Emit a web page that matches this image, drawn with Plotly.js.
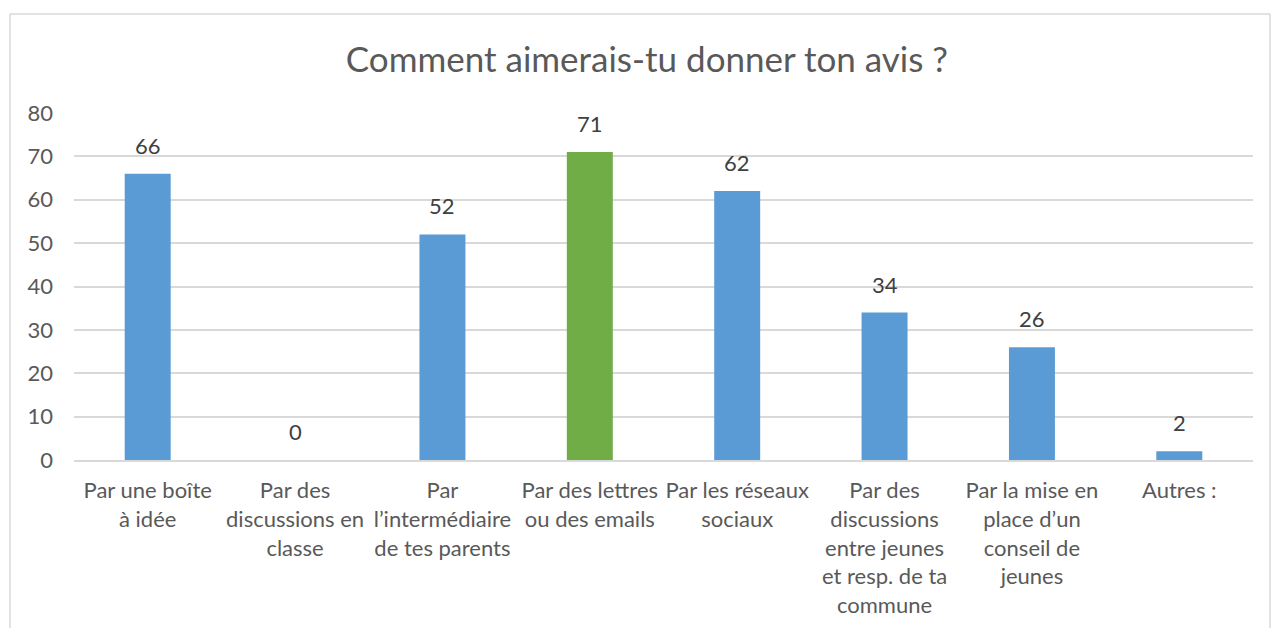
<!DOCTYPE html>
<html>
<head>
<meta charset="utf-8">
<script src="https://cdn.plot.ly/plotly-3.0.1.min.js"></script>
<style>
html,body{margin:0;padding:0;background:#fff;}
#chart{width:1271px;height:628px;}
</style>
</head>
<body>
<div id="chart"></div>
<script>
var categories = [
  "Par une boîte<br>à idée",
  "Par des<br>discussions en<br>classe",
  "Par<br>l’intermédiaire<br>de tes parents",
  "Par des lettres<br>ou des emails",
  "Par les réseaux<br>sociaux",
  "Par des<br>discussions<br>entre jeunes<br>et resp. de ta<br>commune",
  "Par la mise en<br>place d’un<br>conseil de<br>jeunes",
  "Autres :"
];
var values = [66, 0, 52, 71, 62, 34, 26, 2];
var barColors = ["#5B9BD5", "#5B9BD5", "#5B9BD5", "#70AD47", "#5B9BD5", "#5B9BD5", "#5B9BD5", "#5B9BD5"];
var yTicks = [0, 10, 20, 30, 40, 50, 60, 70, 80];

var W = 1271, H = 628;
var mL = 74, mR = 18, mT = 113, mB = 168;
var pw = W - mL - mR, ph = H - mT - mB;
function px2x(p){ return (p - mL) / pw; }
function py2y(p){ return (H - mB - p) / ph; }

var FONT = "Lato, 'Open Sans', sans-serif";

var trace = {
  type: "bar",
  x: categories,
  y: values,
  marker: { color: barColors },
  hoverinfo: "x+y"
};

var annotations = categories.map(function(c, i){
  return {
    x: c, y: values[i], xref: "x", yref: "y",
    text: String(values[i]),
    showarrow: false,
    yanchor: "bottom",
    yshift: 13,
    font: { family: FONT, size: 22, color: "#404040" }
  };
});

var layout = {
  width: W, height: H,
  margin: { l: mL, r: mR, t: mT, b: mB, pad: 0 },
  paper_bgcolor: "#ffffff",
  plot_bgcolor: "#ffffff",
  showlegend: false,
  bargap: 0.688,
  title: {
    text: "Comment aimerais-tu donner ton avis ?",
    font: { family: FONT, size: 35, color: "#595959" },
    x: 0.509, xanchor: "center",
    y: 1 - 60 / H, yanchor: "middle"
  },
  xaxis: {
    type: "category",
    showgrid: false,
    showline: true,
    linecolor: "#d9d9d9",
    linewidth: 2,
    ticks: "",
    ticklabelstandoff: 10,
    tickfont: { family: FONT, size: 22, color: "#595959" },
    fixedrange: true
  },
  yaxis: {
    range: [0, 80],
    tickvals: yTicks,
    ticktext: yTicks.map(String),
    showgrid: true,
    gridcolor: "#d9d9d9",
    gridwidth: 2,
    zeroline: false,
    showline: false,
    ticks: "",
    ticklabelstandoff: 20,
    tickfont: { family: FONT, size: 22, color: "#595959" },
    fixedrange: true
  },
  shapes: [{
    type: "rect", xref: "paper", yref: "paper",
    x0: px2x(10), x1: px2x(1270), y0: py2y(640), y1: py2y(14),
    line: { color: "#d9d9d9", width: 1.5 },
    fillcolor: "rgba(0,0,0,0)",
    layer: "below"
  }],
  annotations: annotations
};

Plotly.newPlot("chart", [trace], layout, { displayModeBar: false, staticPlot: true });
</script>
</body>
</html>
